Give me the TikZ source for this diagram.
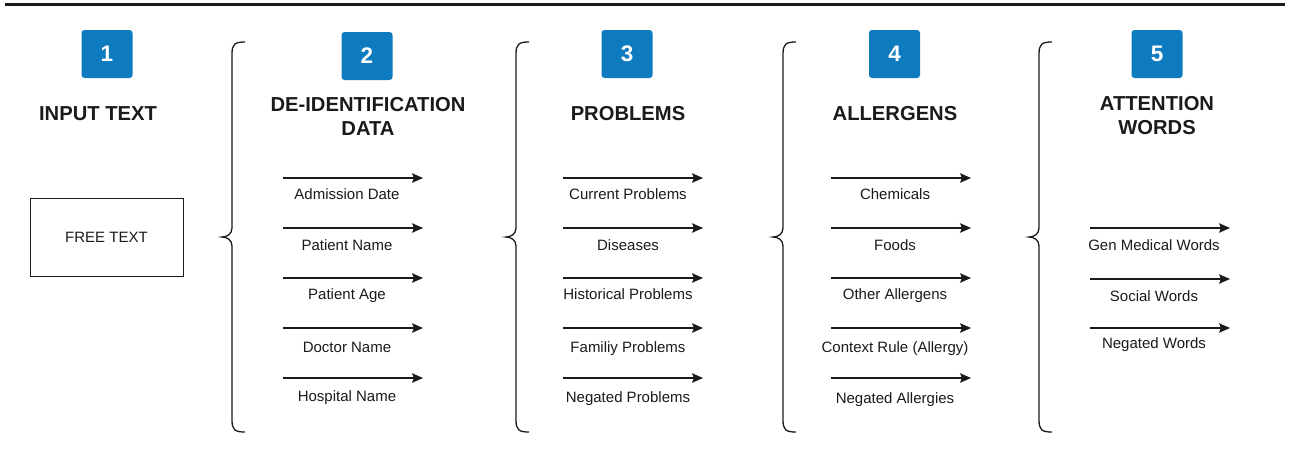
\documentclass[tikz,border=0pt]{standalone}
\usepackage{fontspec}
\setmainfont{Liberation Sans}
\usetikzlibrary{arrows.meta}
\definecolor{badgeblue}{RGB}{14,123,190}
\definecolor{ink}{RGB}{26,26,26}
\tikzset{
  badge/.style={fill=badgeblue, rounded corners=3pt, minimum width=51pt, minimum height=48pt, inner sep=0pt, text=white, font=\fontsize{22.5}{24}\selectfont\bfseries},
  heading/.style={align=center, text=ink, font=\fontsize{20.2}{24}\selectfont\bfseries, inner sep=0pt},
  itemlabel/.style={text=ink, font=\fontsize{15}{17}\selectfont, inner sep=0pt, text height=10.7pt, text depth=0pt},
  itemarrow/.style={draw=ink, line width=1.4pt, -{Stealth[length=11pt,width=9.5pt,inset=2pt]}},
  bracepath/.style={draw=ink, line width=1.3pt},
  inputbox/.style={draw=ink, line width=1pt, minimum width=153pt, minimum height=78pt, inner sep=0pt, text=ink, font=\fontsize{15}{17}\selectfont}
}
\newcommand{\bracedraw}[1]{%
  \draw[bracepath] (#1+13,42) .. controls (#1+3,42) and (#1,44) .. (#1,54) -- (#1,228)
    .. controls (#1,234) and (#1-5,237) .. (#1-10,237)
    .. controls (#1-5,237) and (#1,240) .. (#1,246) -- (#1,420)
    .. controls (#1,430) and (#1+3,432) .. (#1+13,432);}
\begin{document}
\begin{tikzpicture}[x=1pt,y=-1pt]
\useasboundingbox (0,0) rectangle (1301,453);
% top rule
\coordinate (ruleL) at (5,4);
\coordinate (ruleR) at (1285,4);
\draw[draw=ink, line width=3pt] (ruleL) -- (ruleR);
% badges
\node[badge] (b1) at (107,54) {1};
\node[badge] (b2) at (367,56) {2};
\node[badge] (b3) at (627,54) {3};
\node[badge] (b4) at (894.5,54) {4};
\node[badge] (b5) at (1157,54) {5};
% headings
\node[heading] (h1) at (98,114) {INPUT TEXT};
\node[heading] (h2) at (368,116) {DE-IDENTIFICATION\\DATA};
\node[heading] (h3) at (628,114) {PROBLEMS};
\node[heading] (h4) at (895,114) {ALLERGENS};
\node[heading] (h5) at (1157,116) {ATTENTION\\WORDS};
% input box
\node[inputbox] (free) at (106.5,237) {FREE TEXT};
% braces
\bracedraw{232}
\bracedraw{516}
\bracedraw{783}
\bracedraw{1039}
% column 2
\foreach \i/\ay/\ly/\t in {1/178/194/Admission Date, 2/228/245/Patient Name, 3/278/294/Patient Age, 4/328/347/Doctor Name, 5/378/396/Hospital Name}{
  \coordinate (s2\i) at (283,\ay);
  \coordinate (e2\i) at (423,\ay);
  \draw[itemarrow] (s2\i) -- (e2\i);
  \node[itemlabel] (l2\i) at (347,\ly) {\t};
}
% column 3
\foreach \i/\ay/\ly/\t in {1/178/194/Current Problems, 2/228/245/Diseases, 3/278/294/Historical Problems, 4/328/347/Familiy Problems, 5/378/397/Negated Problems}{
  \coordinate (s3\i) at (563,\ay);
  \coordinate (e3\i) at (703,\ay);
  \draw[itemarrow] (s3\i) -- (e3\i);
  \node[itemlabel] (l3\i) at (628,\ly) {\t};
}
% column 4
\foreach \i/\ay/\ly/\t in {1/178/194/Chemicals, 2/228/245/Foods, 3/278/294/Other Allergens, 4/328/347/Context Rule (Allergy), 5/378/398/Negated Allergies}{
  \coordinate (s4\i) at (831,\ay);
  \coordinate (e4\i) at (971,\ay);
  \draw[itemarrow] (s4\i) -- (e4\i);
  \node[itemlabel] (l4\i) at (895,\ly) {\t};
}
% column 5
\foreach \i/\ay/\ly/\t in {1/228/245/Gen Medical Words, 2/279/296/Social Words, 3/328/343/Negated Words}{
  \coordinate (s5\i) at (1090,\ay);
  \coordinate (e5\i) at (1230,\ay);
  \draw[itemarrow] (s5\i) -- (e5\i);
  \node[itemlabel] (l5\i) at (1154,\ly) {\t};
}
\end{tikzpicture}
\end{document}
